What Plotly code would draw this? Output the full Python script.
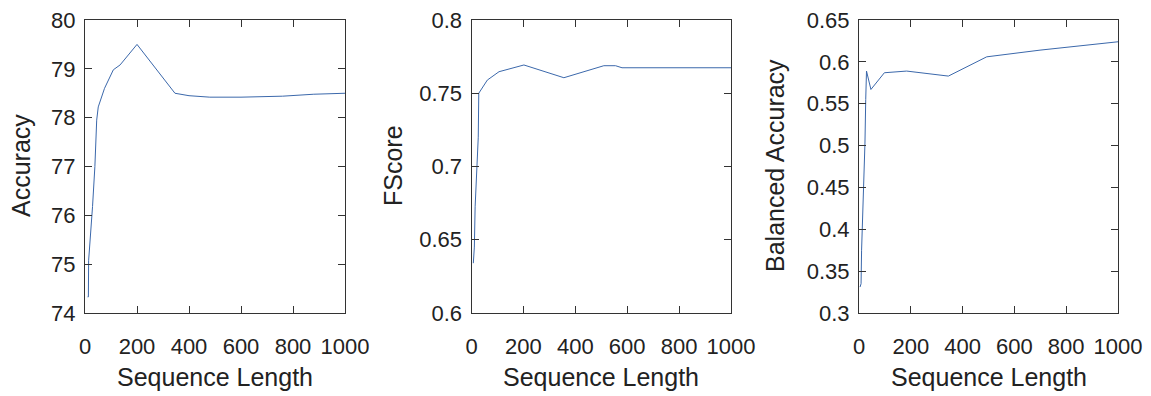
import plotly.graph_objects as go

# ---- data ----
acc_x = [10, 13, 14, 19, 29, 38, 45, 51, 75, 109, 135, 200, 346, 400, 480, 600, 760, 880, 1000]
acc_y = [74.33, 74.33, 75.08, 75.43, 76.18, 77.0, 77.95, 78.22, 78.6, 78.98, 79.08, 79.5,
         78.5, 78.45, 78.42, 78.42, 78.44, 78.48, 78.5]

fs_x = [7, 11, 14, 20, 26, 28, 43, 61, 106, 202, 356, 510, 555, 580, 1000]
fs_y = [0.634, 0.645, 0.6725, 0.70, 0.72, 0.75, 0.7545, 0.759, 0.7647, 0.7693, 0.7606,
        0.7688, 0.7688, 0.7674, 0.7674]

ba_x = [4, 8, 10, 14, 17, 21, 23, 26, 29, 46, 98, 184, 345, 493, 699, 1000]
ba_y = [0.331, 0.335, 0.375, 0.415, 0.435, 0.467, 0.503, 0.555, 0.589, 0.567, 0.587,
        0.589, 0.583, 0.606, 0.614, 0.624]

x_title = "Sequence Length"
y_titles = ["Accuracy", "FScore", "Balanced Accuracy"]
y_ranges = [[74, 80], [0.6, 0.8], [0.3, 0.65]]
y_dticks = [1, 0.05, 0.05]
x_ticks = [0, 200, 400, 600, 800, 1000]

# page body has an 8px margin: build the figure in a slightly smaller canvas
OFF = 8
W, H = 1151 - OFF, 396 - OFF


def px(x):
    return (x - OFF) / W


def py(y):
    return 1 - (y - OFF) / H


FONT = "Liberation Sans, Arial, sans-serif"
LINE_COLOR = "#3b68ab"
AX_COLOR = "#333333"
TXT = "#222222"

fig = go.Figure()
series = [(acc_x, acc_y), (fs_x, fs_y), (ba_x, ba_y)]
x_px = [(85, 345), (471.5, 731), (859, 1118)]
ytitle_px = [21, 393, 775]
y_dom = [py(313), py(20)]

annotations = []
for i, (xs, ys) in enumerate(series):
    n = "" if i == 0 else str(i + 1)
    fig.add_trace(go.Scatter(x=xs, y=ys, mode="lines",
                             line=dict(color=LINE_COLOR, width=1),
                             xaxis="x" + n, yaxis="y" + n, showlegend=False))
    common = dict(showline=True, linecolor=AX_COLOR, linewidth=1, mirror="ticks",
                  ticks="inside", ticklen=7, tickcolor=AX_COLOR, tickwidth=1,
                  showgrid=False, zeroline=False, automargin=False,
                  ticklabeloverflow="allow",
                  tickfont=dict(family=FONT, size=22, color=TXT))
    fig.update_layout(**{
        "xaxis" + n: dict(domain=[px(x_px[i][0]), px(x_px[i][1])], range=[0, 1000],
                          tickvals=x_ticks, anchor="y" + n, tickangle=0,
                          ticklabelstandoff=14, **common),
        "yaxis" + n: dict(domain=y_dom, range=y_ranges[i], dtick=y_dticks[i],
                          anchor="x" + n, ticklabelstandoff=4, **common),
    })
    annotations.append(dict(text=x_title, xref="paper", yref="paper",
                            x=px((x_px[i][0] + x_px[i][1]) / 2), y=py(377),
                            xanchor="center", yanchor="middle", showarrow=False,
                            font=dict(family=FONT, size=25, color=TXT)))
    annotations.append(dict(text=y_titles[i], xref="paper", yref="paper",
                            x=px(ytitle_px[i]), y=py(166), textangle=-90,
                            xanchor="center", yanchor="middle", showarrow=False,
                            font=dict(family=FONT, size=25, color=TXT)))

fig.update_layout(width=W, height=H, margin=dict(l=0, r=0, t=0, b=0),
                  paper_bgcolor="white", plot_bgcolor="white",
                  annotations=annotations)
fig.write_html("out.html")
